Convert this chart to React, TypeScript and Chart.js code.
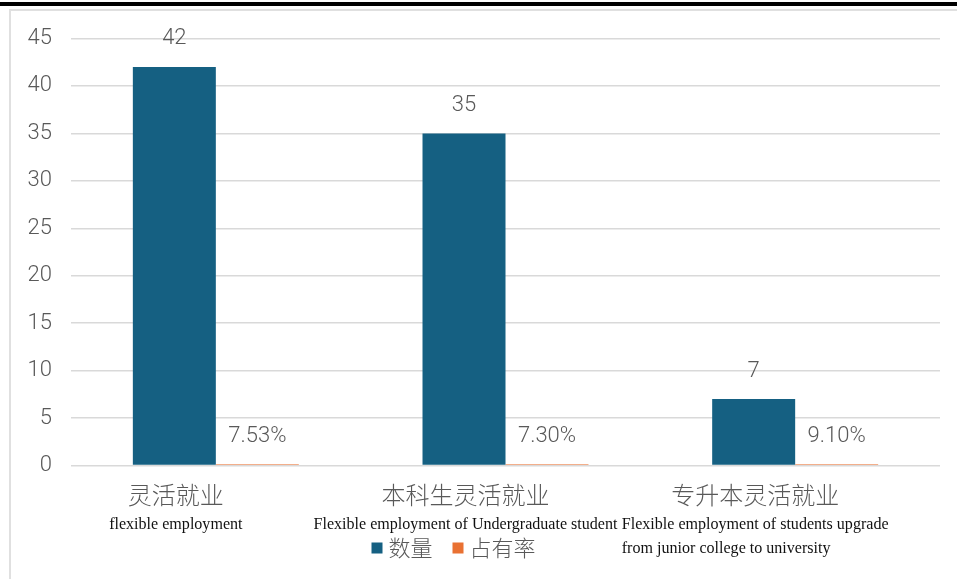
import React, { useEffect, useRef } from "react";
import { Chart, registerables } from "chart.js";

Chart.register(...registerables);

const categoriesZh = ["灵活就业", "本科生灵活就业", "专升本灵活就业"];
const categoriesEn = [
  ["flexible employment"],
  ["Flexible employment of Undergraduate student"],
  ["Flexible employment of students upgrade", "from junior college to university"],
];
const seriesNames = ["数量", "占有率"];
const countValues = [42, 35, 7];
const shareValues = [0.0753, 0.073, 0.091];
const yMin = 0;
const yMax = 45;
const yStep = 5;

const BLUE = "#156082";
const ORANGE = "#E97132";
const TEXT = "#595959";
const GRID = "#d9d9d9";
const NUM_FONT = '300 22px Roboto, "Noto Sans", sans-serif';
const ZH_FONT = '300 24px "Noto Sans CJK SC", sans-serif';
const LEG_FONT = '300 22px "Noto Sans CJK SC", sans-serif';
const EN_FONT = '17px "Liberation Serif", serif';

const CANVAS_W = 946;
const CANVAS_H = 568;

const labelsPlugin = {
  id: "customLabels",
  afterDatasetsDraw(chart: any) {
    const ctx = chart.ctx as CanvasRenderingContext2D;
    const area = chart.chartArea;
    const xScale = chart.scales.x;
    const yScale = chart.scales.y;
    ctx.save();
    // data labels
    ctx.font = NUM_FONT;
    ctx.fillStyle = TEXT;
    ctx.textAlign = "center";
    ctx.textBaseline = "middle";
    chart.data.datasets.forEach((ds: any, di: number) => {
      const meta = chart.getDatasetMeta(di);
      meta.data.forEach((el: any, i: number) => {
        const v = ds.data[i] as number;
        const txt = di === 0 ? String(v) : (v * 100).toFixed(2) + "%";
        ctx.fillText(txt, el.x, yScale.getPixelForValue(v) - 28);
      });
    });

    // category labels
    categoriesZh.forEach((zh, i) => {
      const cx = xScale.getPixelForValue(i);
      ctx.font = ZH_FONT;
      ctx.fillStyle = TEXT;
      ctx.textAlign = "center";
      ctx.textBaseline = "middle";
      ctx.fillText(zh, cx - 40, area.bottom + 29);

      ctx.font = EN_FONT;
      ctx.fillStyle = "#111111";
      ctx.textBaseline = "alphabetic";
      ctx.textAlign = "left";
      const sx = 0.945;
      const lines = categoriesEn[i];
      const blockW = Math.max(...lines.map((l) => ctx.measureText(l).width)) * sx;
      const left = cx - 40 - blockW / 2;
      lines.forEach((line, li) => {
        ctx.save();
        ctx.translate(left, area.bottom + 63.5 + li * 24);
        ctx.scale(sx, 1);
        ctx.fillText(line, 0, 0);
        ctx.restore();
      });
    });

    // legend
    ctx.font = LEG_FONT;
    const colors = [BLUE, ORANGE];
    const box = 11;
    const gapBoxText = 6;
    const gapItems = 20;
    const widths = seriesNames.map((n) => ctx.measureText(n).width);
    const total =
      widths.reduce((a, w) => a + box + gapBoxText + w, 0) + gapItems * (seriesNames.length - 1);
    let x = (area.left + area.right) / 2 - 52 - total / 2;
    const ly = area.bottom + 82.5;
    seriesNames.forEach((n, i) => {
      ctx.fillStyle = colors[i];
      ctx.fillRect(x, ly - box / 2, box, box);
      x += box + gapBoxText;
      ctx.fillStyle = TEXT;
      ctx.textAlign = "left";
      ctx.textBaseline = "middle";
      ctx.fillText(n, x, ly);
      x += widths[i] + gapItems;
    });
    ctx.restore();
  },
};

function App() {
  const ref = useRef<HTMLCanvasElement | null>(null);

  useEffect(() => {
    if (!ref.current) return;
    const chart = new Chart(ref.current, {
      type: "bar",
      data: {
        labels: categoriesZh,
        datasets: [
          {
            label: seriesNames[0],
            data: countValues,
            backgroundColor: BLUE,
            barPercentage: 1,
            categoryPercentage: 0.573,
          },
          {
            label: seriesNames[1],
            data: shareValues,
            backgroundColor: "rgba(233,113,50,0.75)",
            barPercentage: 1,
            categoryPercentage: 0.573,
            minBarLength: 1.5,
          },
        ],
      },
      options: {
        animation: false,
        responsive: false,
        maintainAspectRatio: false,
        layout: { padding: { left: 0, right: 17, top: 27.5, bottom: 0 } },
        plugins: {
          legend: { display: false },
          tooltip: { enabled: false },
        },
        scales: {
          x: {
            grid: { display: false },
            border: { display: false },
            ticks: { display: false },
            afterFit: (scale: any) => {
              scale.height = 113.5;
            },
          },
          y: {
            min: yMin,
            max: yMax,
            grid: { color: GRID, lineWidth: 1.5, drawTicks: false },
            border: { display: false },
            ticks: {
              stepSize: yStep,
              padding: 19,
              color: TEXT,
              font: { family: 'Roboto, "Noto Sans", sans-serif', size: 22, weight: "300" as any },
            },
            afterFit: (scale: any) => {
              scale.width = 60;
              scale.paddingTop = 0;
              scale.paddingBottom = 0;
            },
          },
        },
      },
      plugins: [labelsPlugin],
    });
    return () => chart.destroy();
  }, []);

  return (
    <>
      <div
        style={{
          position: "absolute",
          left: 0,
          top: 2,
          width: 957,
          height: 4,
          background: "#000",
        }}
      />
      <div
        style={{
          position: "absolute",
          left: 9,
          top: 9,
          width: 948,
          height: 570,
          boxSizing: "border-box",
          borderLeft: "2px solid #e0e0e0",
          borderTop: "2px solid #e0e0e0",
          background: "#fff",
        }}
      >
        <canvas ref={ref} width={CANVAS_W} height={CANVAS_H} style={{ display: "block" }} />
      </div>
    </>
  );
}

export default App;
